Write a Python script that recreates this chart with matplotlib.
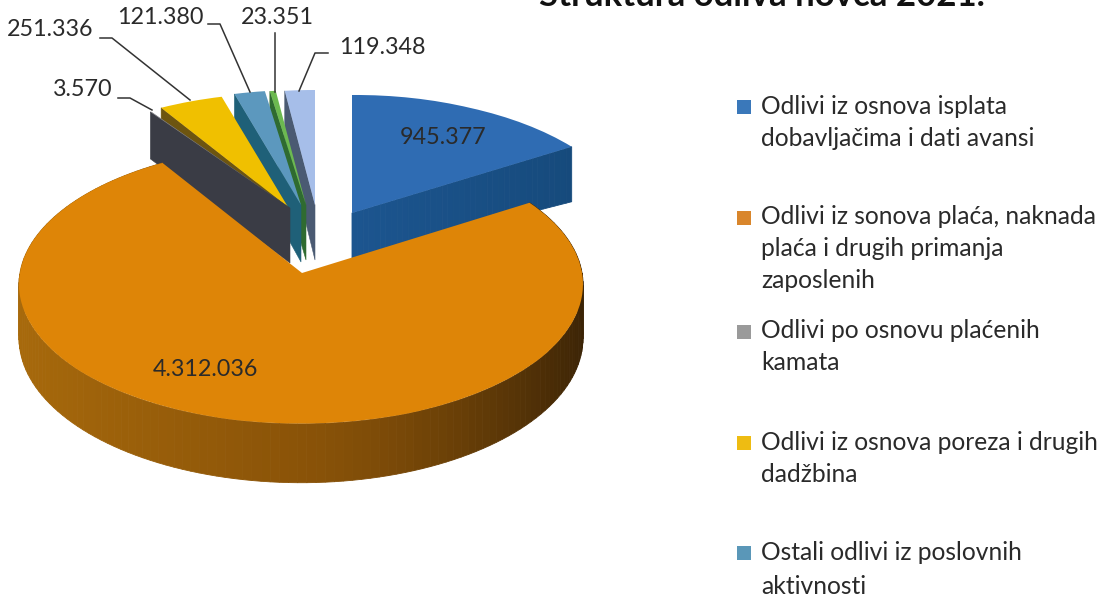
import numpy as np
import matplotlib
matplotlib.use("Agg")
import matplotlib.pyplot as plt
from matplotlib.colors import to_rgb
from matplotlib.transforms import Transform

plt.rcParams['font.family'] = ['Lato', 'DejaVu Sans']

# ---- data -------------------------------------------------------------
title = "Struktura odliva novca 2021."
values = [945377, 4312036, 3570, 251336, 121380, 23351, 119348]
legend_labels = [
    ["Odlivi iz osnova isplata", "dobavljačima i dati avansi"],
    ["Odlivi iz sonova plaća, naknada", "plaća i drugih primanja", "zaposlenih"],
    ["Odlivi po osnovu plaćenih", "kamata"],
    ["Odlivi iz osnova poreza i drugih", "dadžbina"],
    ["Ostali odlivi iz poslovnih", "aktivnosti"],
]

# ---- style / layout (pixel space) --------------------------------------
W, H = 1104, 596
top_colors = ["#2f6cb3", "#de8507", "#8c8c90", "#f0c000", "#5c98be", "#6cb950", "#a6bee9"]
face_colors = ["#1d4f84", "#a8640a", "#3a3c45", "#6d5510", "#1f6078", "#2f6b30", "#4a5a72"]
legend_colors = ["#3a78ba", "#d9862c", "#9a9a9a", "#eebc12", "#5a97b8"]
# apex x, apex y, arc centre x, arc centre y, a, b, depth, perspective
geometry = [
    (352, 213, 352, 213, 283, 141.6, 45, 0.2),
    (302, 273, 301, 270.5, 280.6, 138, 53, 0.1),
    (290, 208, 290, 208, 305, 133, 55, 0.2),
    (288, 207, 288, 207, 279, 137, 50, 0.2),
    (301, 205, 301, 205, 280, 138, 57, 0.2),
    (306, 205, 306, 205, 280, 138, 55, 0.2),
    (315, 205, 315, 205, 280, 138, 55, 0.2),
]
draw_order = [0, 6, 5, 4, 3, 2, 1]


def persp(theta, g):
    return 1.0 / (1.0 + g[7] * np.cos(theta))


def arc_point(theta, g):
    s = persp(theta, g)
    x = g[2] + g[4] * np.sin(theta) * s
    y = g[3] - g[5] * np.cos(theta) * s
    return x, y


class DiscMap(Transform):
    """Maps a unit pie onto the tilted, exploded disc of one slice."""
    input_dims = output_dims = 2
    is_separable = False
    has_inverse = False

    def __init__(self, g):
        super().__init__()
        self.g = g

    def transform_non_affine(self, xy):
        xy = np.asarray(xy, dtype=float)
        r = np.hypot(xy[:, 0], xy[:, 1])
        th = np.arctan2(xy[:, 0], xy[:, 1])
        x, y = arc_point(th, self.g)
        return np.column_stack([self.g[0] + r * (x - self.g[0]),
                                self.g[1] + r * (y - self.g[1])])


fig = plt.figure(figsize=(W / 100, H / 100), dpi=100, facecolor="white")
ax = fig.add_axes([0, 0, 1, 1])

wedges, _ = ax.pie(values, colors=top_colors, startangle=90, counterclock=False,
                   radius=1.0, wedgeprops=dict(linewidth=0))
ax.set_aspect("auto")
ax.set_xlim(0, W)
ax.set_ylim(H, 0)
ax.axis("off")

fractions = np.array(values, dtype=float) / np.sum(values)
edges = np.concatenate([[0], np.cumsum(fractions)]) * 2 * np.pi


def mix(c1, c2, t):
    c1, c2 = np.array(to_rgb(c1)), np.array(to_rgb(c2))
    return tuple(c1 + (c2 - c1) * t)


z = 2
for i in draw_order:
    g = geometry[i]
    t0, t1 = edges[i], edges[i + 1]
    depth = g[6]
    if i == 1:
        # curved outer wall of the large slice, dark toward the right
        ts = np.linspace(t0, t1, 160)
        for a0, a1 in zip(ts[:-1], ts[1:]):
            x0, y0 = arc_point(a0, g)
            x1, y1 = arc_point(a1, g)
            d0, d1 = depth * persp(a0, g), depth * persp(a1, g)
            sn = np.sin((a0 + a1) / 2)
            if sn > 0:
                col = mix("#8a5308", "#3a2306", min(1, sn ** 1.3))
            else:
                col = mix("#8a5308", "#a86a0c", min(1, -sn))
            ax.fill([x0, x1, x1, x0], [y0, y1, y1 + d1, y0 + d0],
                    color=col, lw=0.6, zorder=z)
    elif i == 0:
        # front radial wall of the first slice, deeper toward its outer end
        xe, ye = arc_point(t1, g)
        de = depth + 10
        ss = np.linspace(0, 1, 40)
        for s0, s1 in zip(ss[:-1], ss[1:]):
            xa, ya = g[0] + s0 * (xe - g[0]), g[1] + s0 * (ye - g[1])
            xb, yb = g[0] + s1 * (xe - g[0]), g[1] + s1 * (ye - g[1])
            da, db = depth + s0 * (de - depth), depth + s1 * (de - depth)
            col = mix("#1c558f", "#164a7c", s0)
            ax.fill([xa, xb, xb, xa], [ya, yb, yb + db, ya + da],
                    color=col, lw=0.6, zorder=z)
    else:
        # left radial wall of the small slices
        xe, ye = arc_point(t0, g)
        de = depth * persp(t0, g)
        ax.fill([g[0], xe, xe, g[0]], [g[1], ye, ye + de, g[1] + depth],
                color=face_colors[i], lw=0.4, zorder=z)
    z += 1
    wedges[i].set_transform(DiscMap(g) + ax.transData)
    wedges[i].set_clip_on(False)
    wedges[i].set_zorder(z)
    z += 1

# value labels
text_col = "#2a2a2a"
val_text = [f"{v:,}".replace(",", ".") for v in values]
FS = 16.8
label_pos = [(443, 138), (205, 369), (83, 90), (50, 30), (160, 17), (277, 17), (382, 47)]
zt = z + 1
for s, (x, y) in zip(val_text, label_pos):
    ax.text(x, y, s, ha="center", va="center", fontsize=FS, color=text_col, zorder=zt)

leaders = [
    ([118, 130, 152], [98, 98, 110]),
    ([100, 112, 190], [38, 38, 100]),
    ([208, 220, 250], [24, 24, 92]),
    ([275, 275], [33, 92]),
    ([328, 315, 299], [53, 53, 91]),
]
for xs, ys in leaders:
    ax.plot(xs, ys, color="#333333", lw=1.1, zorder=zt)

# title, cut by the top edge as in the source
ax.text(762, 6, title, ha="center", va="baseline", fontsize=25, fontweight="bold",
        color="#111111", zorder=zt, clip_on=False)

# legend
LFS = 17.7
line_rows = [[106, 138], [217, 249, 281], [331, 363], [442, 475], [552, 586]]
for lines, rows, col in zip(legend_labels, line_rows, legend_colors):
    ax.fill([737, 751, 751, 737], [rows[0] - 6, rows[0] - 6, rows[0] + 8, rows[0] + 8],
            color=col, lw=0, zorder=zt)
    for s, y in zip(lines, rows):
        ax.text(761, y, s, ha="left", va="center", fontsize=LFS, color=text_col, zorder=zt)

fig.savefig("out.png", dpi=100, facecolor="white")
